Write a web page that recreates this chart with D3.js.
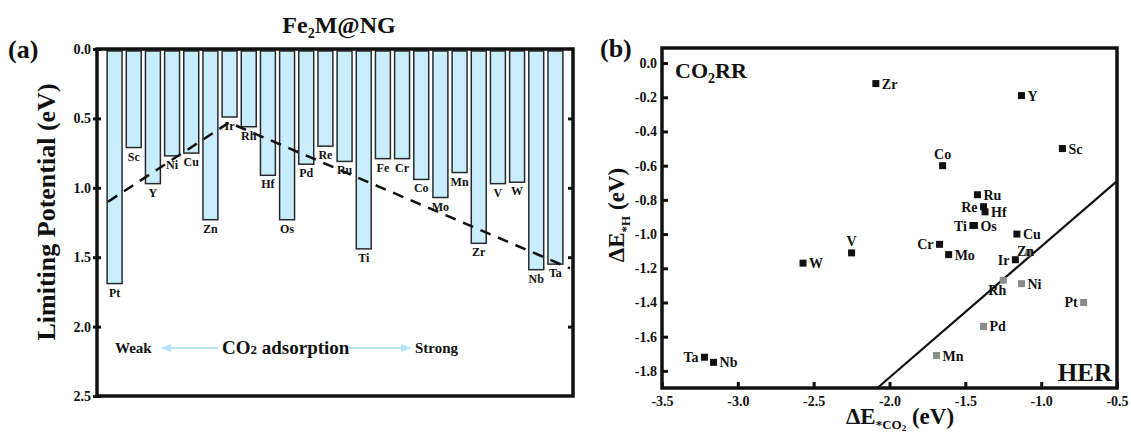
<!DOCTYPE html>
<html>
<head>
<meta charset="utf-8">
<script src="https://cdn.jsdelivr.net/npm/d3@7"></script>
<style>
  body { margin: 0; background: #fff; }
  svg text { font-family: "Liberation Serif", "Times New Roman", serif; font-weight: bold; fill: #111; }
</style>
</head>
<body>
<div class="container"></div>
<script>
const w = 1131
const h = 437

// ---- panel (a) data
const metalsA = ["Pt","Sc","Y","Ni","Cu","Zn","Ir","Rh","Hf","Os","Pd","Re","Ru","Ti","Fe","Cr","Co","Mo","Mn","Zr","V","W","Nb","Ta"]
const limitingPotential = [1.69,0.71,0.97,0.77,0.75,1.23,0.49,0.56,0.91,1.23,0.83,0.70,0.81,1.44,0.79,0.79,0.94,1.07,0.89,1.40,0.97,0.96,1.59,1.55]
const trendIndex = [-0.34, 5.97, 23.76]
const trendValue = [1.10, 0.53, 1.58]
const ticksA = [0, 0.5, 1.0, 1.5, 2.0, 2.5]

// ---- panel (b) data
const metalsB = ["Zr","Y","Sc","Co","Ru","Re","Hf","Ti","Os","Cu","Zn","Ir","Cr","Mo","Rh","Ni","Pt","Pd","Mn","W","V","Ta","Nb"]
const dEco2 = [-2.09,-1.13,-0.86,-1.65,-1.42,-1.38,-1.37,-1.45,-1.44,-1.16,-1.08,-1.17,-1.67,-1.61,-1.25,-1.13,-0.72,-1.38,-1.69,-2.57,-2.25,-3.22,-3.16]
const dEh = [-0.12,-0.19,-0.50,-0.60,-0.77,-0.84,-0.87,-0.95,-0.95,-1.00,-1.11,-1.15,-1.06,-1.12,-1.27,-1.29,-1.40,-1.54,-1.71,-1.17,-1.11,-1.72,-1.75]
const herSide = ["Zn","Rh","Ni","Pt","Pd","Mn"]
const boundaryX = [-2.08, -0.5]
const boundaryY = [-1.90, -0.69]
const ticksBx = [-3.5,-3.0,-2.5,-2.0,-1.5,-1.0,-0.5]
const ticksBy = [0.0,-0.2,-0.4,-0.6,-0.8,-1.0,-1.2,-1.4,-1.6,-1.8]

// label side for each point in (b)
const labelSide = {Zr:"r",Y:"r",Sc:"r",Co:"t",Ru:"r",Re:"l",Hf:"r",Ti:"l",Os:"r",Cu:"r",Zn:"over",Ir:"l",
                   Cr:"l",Mo:"r",Rh:"bl",Ni:"r",Pt:"l",Pd:"r",Mn:"r",W:"r",V:"t",Ta:"l",Nb:"r"}

const svg = d3.select(".container")
              .append("svg")
              .attr("width", w)
              .attr("height", h)

// ================= panel (a)
const aLeft = 97, aRight = 573, aTop = 49, aBottom = 396

const xA = d3.scaleBand()
             .domain(metalsA)
             .range([105, 565])
             .paddingInner(0.22)
             .paddingOuter(0.11)

const xIdx = d3.scaleLinear()
               .domain([0, metalsA.length - 1])
               .range([xA(metalsA[0]) + xA.bandwidth()/2, xA(metalsA[metalsA.length-1]) + xA.bandwidth()/2])

const yA = d3.scaleLinear()
             .domain([0, 2.5])
             .range([aTop, aBottom])

const gA = svg.append("g")

gA.selectAll("rect.bar")
  .data(metalsA)
  .enter()
  .append("rect")
    .attr("class", "bar")
    .attr("x", d => xA(d))
    .attr("y", yA(0) + 2)
    .attr("width", xA.bandwidth())
    .attr("height", (d, i) => yA(limitingPotential[i]) - yA(0) - 2)
    .attr("fill", "#c8edfc")
    .attr("stroke", "#2a2a2a")
    .attr("stroke-width", 1.5)

gA.selectAll("text.blabel")
  .data(metalsA)
  .enter()
  .append("text")
    .attr("class", "blabel")
    .attr("x", d => xA(d) + xA.bandwidth()/2)
    .attr("y", (d, i) => yA(limitingPotential[i]) + 13)
    .attr("text-anchor", "middle")
    .attr("font-size", 12)
    .text(d => d)

const trendLine = d3.line()
                    .x(d => xIdx(d[0]))
                    .y(d => yA(d[1]))

gA.append("path")
  .datum(d3.zip(trendIndex, trendValue))
  .attr("d", trendLine)
  .attr("fill", "none")
  .attr("stroke", "#111")
  .attr("stroke-width", 2.5)
  .attr("stroke-dasharray", "11,8")

// axes of (a)
const yAxisA = d3.axisLeft(yA)
                 .tickValues(ticksA)
                 .tickFormat(d => d.toFixed(1))
                 .tickSize(4)
                 .tickPadding(2)

gA.append("g")
  .attr("transform", `translate(${aLeft}, 0)`)
  .call(yAxisA)
  .call(g => g.select(".domain").remove())
  .call(g => g.selectAll(".tick line").attr("stroke", "#111").attr("stroke-width", 3).attr("x2", 4).attr("x1", -4))
  .call(g => g.selectAll(".tick text").attr("font-size", 14).attr("fill", "#111"))

gA.append("g")
  .attr("transform", `translate(${aRight}, 0)`)
  .call(d3.axisLeft(yA).tickValues(ticksA.slice(1, 5)).tickFormat("").tickSize(5))
  .call(g => g.select(".domain").remove())
  .call(g => g.selectAll(".tick line").attr("stroke", "#111").attr("stroke-width", 3))

gA.append("rect")
  .attr("x", aLeft).attr("y", aTop)
  .attr("width", aRight - aLeft).attr("height", aBottom - aTop)
  .attr("fill", "none").attr("stroke", "#111").attr("stroke-width", 3.5)

// titles of (a)
gA.append("text").attr("x", 8).attr("y", 58).attr("font-size", 26).text("(a)")

const titleA = gA.append("text").attr("x", 339).attr("y", 33).attr("text-anchor", "middle").attr("font-size", 24)
titleA.append("tspan").text("Fe")
titleA.append("tspan").attr("font-size", 14).attr("dy", 5).text("2")
titleA.append("tspan").attr("dy", -5).text("M@NG")

gA.append("text")
  .attr("transform", `translate(55, 212) rotate(-90)`)
  .attr("text-anchor", "middle")
  .attr("font-size", 26)
  .text("Limiting Potential (eV)")

// adsorption arrow row
const defs = svg.append("defs")
defs.append("marker")
    .attr("id", "head")
    .attr("viewBox", "0 0 10 10")
    .attr("refX", 9).attr("refY", 5)
    .attr("markerWidth", 5).attr("markerHeight", 5)
    .attr("orient", "auto-start-reverse")
    .append("path")
      .attr("d", "M0,1 L10,5 L0,9 Z")
      .attr("fill", "#b4e4f8")

gA.append("text").attr("x", 115).attr("y", 353).attr("font-size", 15).text("Weak")
gA.append("line").attr("x1", 218).attr("x2", 162).attr("y1", 348).attr("y2", 348)
  .attr("stroke", "#b4e4f8").attr("stroke-width", 2).attr("marker-end", "url(#head)")
const ads = gA.append("text").attr("x", 222).attr("y", 354).attr("font-size", 19)
ads.append("tspan").text("CO")
ads.append("tspan").attr("font-size", 13).text("2")
ads.append("tspan").text(" adsorption")
gA.append("line").attr("x1", 349).attr("x2", 410).attr("y1", 348).attr("y2", 348)
  .attr("stroke", "#b4e4f8").attr("stroke-width", 2).attr("marker-end", "url(#head)")
gA.append("text").attr("x", 415).attr("y", 353).attr("font-size", 15).text("Strong")

// ================= panel (b)
const bLeft = 662, bRight = 1117, bTop = 48, bBottom = 388

const xB = d3.scaleLinear().domain([-3.5, -0.5]).range([bLeft, bRight])
const yB = d3.scaleLinear().domain([-1.9, 0.088]).range([bBottom, bTop])

const gB = svg.append("g")

const xAxisB = d3.axisBottom(xB)
                 .tickValues(ticksBx)
                 .tickFormat(d => d.toFixed(1))
                 .tickSize(0)
                 .tickPadding(8)

gB.append("g")
  .attr("transform", `translate(0, ${bBottom})`)
  .call(xAxisB)
  .call(g => g.select(".domain").remove())
  .call(g => g.selectAll(".tick").append("line").attr("y1", 0).attr("y2", -6).attr("stroke", "#111").attr("stroke-width", 3))
  .call(g => g.selectAll(".tick text").attr("font-size", 14).attr("fill", "#111"))

const yAxisB = d3.axisLeft(yB)
                 .tickValues(ticksBy)
                 .tickFormat(d => d.toFixed(1))
                 .tickSize(0)
                 .tickPadding(5)

gB.append("g")
  .attr("transform", `translate(${bLeft}, 0)`)
  .call(yAxisB)
  .call(g => g.select(".domain").remove())
  .call(g => g.selectAll(".tick").append("line").attr("x1", 0).attr("x2", 6).attr("stroke", "#111").attr("stroke-width", 3))
  .call(g => g.selectAll(".tick text").attr("font-size", 14).attr("fill", "#111"))

// boundary line
gB.append("line")
  .attr("x1", xB(boundaryX[0])).attr("y1", yB(boundaryY[0]))
  .attr("x2", xB(boundaryX[1])).attr("y2", yB(boundaryY[1]))
  .attr("stroke", "#111").attr("stroke-width", 2.2)

const pts = metalsB.map((m, i) => ({m, x: dEco2[i], y: dEh[i]}))
const sq = 7

gB.selectAll("rect.pt")
  .data(pts)
  .enter()
  .append("rect")
    .attr("class", "pt")
    .attr("x", d => xB(d.x) - sq/2)
    .attr("y", d => yB(d.y) - sq/2)
    .attr("width", sq).attr("height", sq)
    .attr("fill", d => herSide.includes(d.m) ? "#8a8a8a" : "#111")

const off = {
  r:    [6, 5, "start"],
  l:    [-6, 5, "end"],
  t:    [0, -7, "middle"],
  over: [-12, 3, "start"],
  bl:   [3, 15, "end"]
}

gB.selectAll("text.plabel")
  .data(pts)
  .enter()
  .append("text")
    .attr("class", "plabel")
    .attr("x", d => xB(d.x) + off[labelSide[d.m]][0])
    .attr("y", d => yB(d.y) + off[labelSide[d.m]][1])
    .attr("text-anchor", d => off[labelSide[d.m]][2])
    .attr("font-size", 14)
    .text(d => d.m)

gB.append("rect")
  .attr("x", bLeft).attr("y", bTop)
  .attr("width", bRight - bLeft).attr("height", bBottom - bTop)
  .attr("fill", "none").attr("stroke", "#111").attr("stroke-width", 3.5)

gB.append("text").attr("x", 600).attr("y", 57).attr("font-size", 26).text("(b)")

const co2rr = gB.append("text").attr("x", 675).attr("y", 78).attr("font-size", 22)
co2rr.append("tspan").text("CO")
co2rr.append("tspan").attr("font-size", 14).attr("dy", 5).text("2")
co2rr.append("tspan").attr("dy", -5).text("RR")

gB.append("text").attr("x", 1112).attr("y", 381).attr("text-anchor", "end").attr("font-size", 25).text("HER")

const ylabB = gB.append("text")
  .attr("transform", `translate(624, 215) rotate(-90)`)
  .attr("text-anchor", "middle")
  .attr("font-size", 23)
ylabB.append("tspan").text("ΔE")
ylabB.append("tspan").attr("font-size", 13).attr("dy", 6).text("*H")
ylabB.append("tspan").attr("dy", -6).text(" (eV)")

const xlabB = gB.append("text")
  .attr("x", 900).attr("y", 424)
  .attr("text-anchor", "middle")
  .attr("font-size", 23)
xlabB.append("tspan").text("ΔE")
xlabB.append("tspan").attr("font-size", 13).attr("dy", 5).text("*CO")
xlabB.append("tspan").attr("font-size", 9).attr("dy", 2).text("2")
xlabB.append("tspan").attr("dy", -7).text(" (eV)")
</script>
</body>
</html>
